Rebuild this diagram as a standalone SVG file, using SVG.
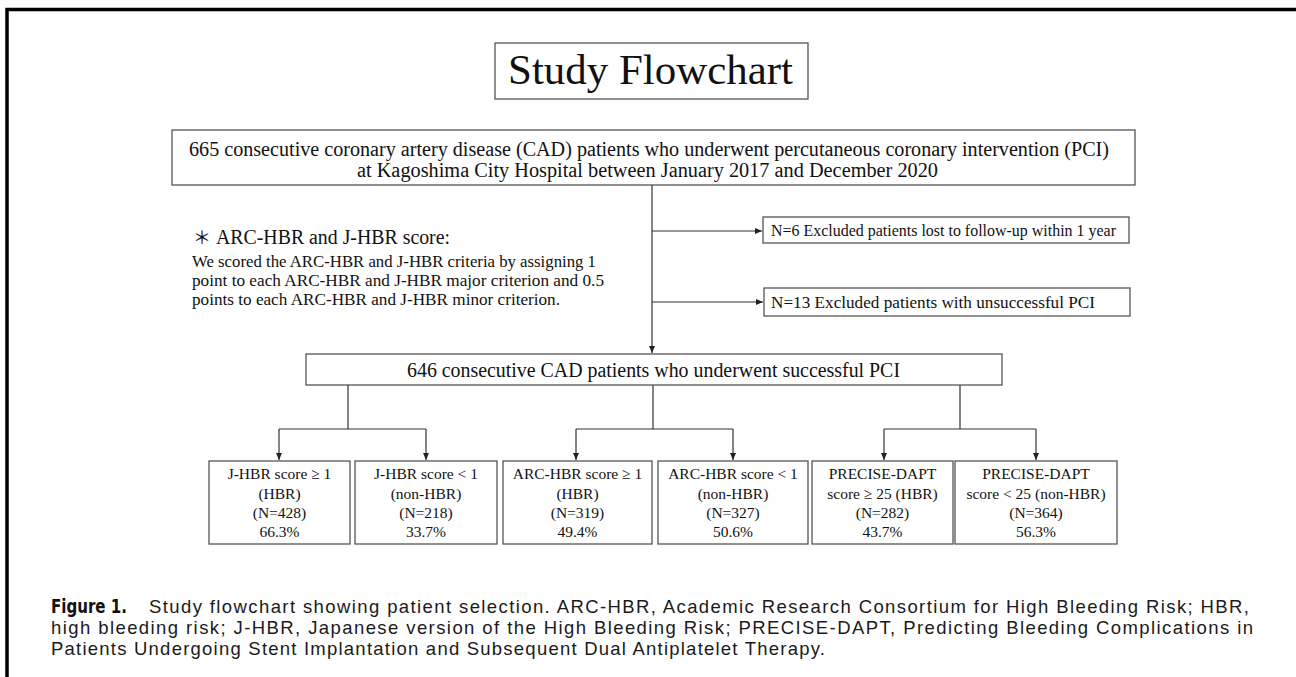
<svg xmlns="http://www.w3.org/2000/svg" width="1296" height="677" viewBox="0 0 1296 677">
<defs>
<marker id="arr" markerWidth="8" markerHeight="8" refX="7" refY="4" orient="auto" markerUnits="userSpaceOnUse">
<path d="M0,1 L7,4 L0,7 Z" fill="#222"/>
</marker>
<style>
.box{fill:#fff;stroke:#555;stroke-width:1.3}
.t{font-family:"Liberation Serif","Times New Roman",serif;fill:#111}
.c{text-anchor:middle}
.conn{stroke:#333;stroke-width:1.2;fill:none}
.cap{font-family:"Liberation Sans",Arial,sans-serif;font-size:18.5px;fill:#1a1a1a}
.fig{font-family:"Liberation Sans Narrow","DejaVu Sans Condensed","Liberation Sans",sans-serif;font-weight:bold;font-size:19px;fill:#111}
</style>
</defs>
<rect width="1296" height="677" fill="#fff"/>
<path d="M7,677 V9.5 H1296" fill="none" stroke="#000" stroke-width="3.5"/>

<g id="title">
<rect class="box" x="495" y="43" width="313" height="56"/>
<text class="t" x="508" y="84" font-size="43" textLength="285" lengthAdjust="spacingAndGlyphs">Study Flowchart</text>
</g>

<g id="n-all">
<rect class="box" x="172" y="130" width="963" height="55"/>
<text class="t" x="189" y="156" font-size="20" textLength="920" lengthAdjust="spacingAndGlyphs">665 consecutive coronary artery disease (CAD) patients who underwent percutaneous coronary intervention (PCI)</text>
<text class="t" x="357" y="177" font-size="20" textLength="581" lengthAdjust="spacingAndGlyphs">at Kagoshima City Hospital between January 2017 and December 2020</text>
</g>

<g id="note">
<text class="t" y="244" font-size="20"><tspan x="193" font-family="'Noto Sans CJK JP',sans-serif" font-size="18">＊</tspan><tspan x="216" textLength="234" lengthAdjust="spacingAndGlyphs">ARC-HBR and J-HBR score:</tspan></text>
<text class="t" x="192" y="267" font-size="17" textLength="404" lengthAdjust="spacingAndGlyphs">We scored the ARC-HBR and J-HBR criteria by assigning 1</text>
<text class="t" x="192" y="286" font-size="17" textLength="412" lengthAdjust="spacingAndGlyphs">point to each ARC-HBR and J-HBR major criterion and 0.5</text>
<text class="t" x="192" y="305" font-size="17" textLength="368" lengthAdjust="spacingAndGlyphs">points to each ARC-HBR and J-HBR minor criterion.</text>
</g>

<g id="excl-1">
<rect class="box" x="763" y="217" width="366" height="26"/>
<text class="t" x="771" y="236" font-size="17" textLength="345" lengthAdjust="spacingAndGlyphs">N=6 Excluded patients lost to follow-up within 1 year</text>
</g>

<g id="excl-2">
<rect class="box" x="764" y="288" width="366" height="28"/>
<text class="t" x="771" y="308" font-size="17" textLength="324" lengthAdjust="spacingAndGlyphs">N=13 Excluded patients with unsuccessful PCI</text>
</g>

<g id="n-success">
<rect class="box" x="306" y="354" width="696" height="31"/>
<text class="t" x="407" y="377" font-size="20" textLength="493" lengthAdjust="spacingAndGlyphs">646 consecutive CAD patients who underwent successful PCI</text>
</g>

<g id="jhbr-hbr">
<rect class="box" x="209" y="461" width="141" height="83"/>
<text class="t c" x="279.5" y="479" font-size="15.5">J-HBR score ≥ 1</text>
<text class="t c" x="279.5" y="498.5" font-size="15.5">(HBR)</text>
<text class="t c" x="279.5" y="518" font-size="15.5">(N=428)</text>
<text class="t c" x="279.5" y="537" font-size="15.5">66.3%</text>
</g>

<g id="jhbr-non">
<rect class="box" x="355" y="461" width="142" height="83"/>
<text class="t c" x="426" y="479" font-size="15.5">J-HBR score &lt; 1</text>
<text class="t c" x="426" y="498.5" font-size="15.5">(non-HBR)</text>
<text class="t c" x="426" y="518" font-size="15.5">(N=218)</text>
<text class="t c" x="426" y="537" font-size="15.5">33.7%</text>
</g>

<g id="arc-hbr">
<rect class="box" x="503" y="461" width="149" height="83"/>
<text class="t c" x="577.5" y="479" font-size="15.5">ARC-HBR score ≥ 1</text>
<text class="t c" x="577.5" y="498.5" font-size="15.5">(HBR)</text>
<text class="t c" x="577.5" y="518" font-size="15.5">(N=319)</text>
<text class="t c" x="577.5" y="537" font-size="15.5">49.4%</text>
</g>

<g id="arc-non">
<rect class="box" x="658" y="461" width="150" height="83"/>
<text class="t c" x="733" y="479" font-size="15.5">ARC-HBR score &lt; 1</text>
<text class="t c" x="733" y="498.5" font-size="15.5">(non-HBR)</text>
<text class="t c" x="733" y="518" font-size="15.5">(N=327)</text>
<text class="t c" x="733" y="537" font-size="15.5">50.6%</text>
</g>

<g id="pd-hbr">
<rect class="box" x="812" y="461" width="141" height="83"/>
<text class="t c" x="882.5" y="479" font-size="15.5">PRECISE-DAPT</text>
<text class="t c" x="882.5" y="498.5" font-size="15.5">score ≥ 25  (HBR)</text>
<text class="t c" x="882.5" y="518" font-size="15.5">(N=282)</text>
<text class="t c" x="882.5" y="537" font-size="15.5">43.7%</text>
</g>

<g id="pd-non">
<rect class="box" x="955" y="461" width="162" height="83"/>
<text class="t c" x="1036" y="479" font-size="15.5">PRECISE-DAPT</text>
<text class="t c" x="1036" y="498.5" font-size="15.5">score &lt; 25 (non-HBR)</text>
<text class="t c" x="1036" y="518" font-size="15.5">(N=364)</text>
<text class="t c" x="1036" y="537" font-size="15.5">56.3%</text>
</g>

<g id="connectors">
<path class="conn" d="M652,185 V353" marker-end="url(#arr)"/>
<path class="conn" d="M652,231 H762" marker-end="url(#arr)"/>
<path class="conn" d="M652,302 H763" marker-end="url(#arr)"/>
<path class="conn" d="M348,385 V429 M279,429 H426"/>
<path class="conn" d="M279,429 V460" marker-end="url(#arr)"/>
<path class="conn" d="M426,429 V460" marker-end="url(#arr)"/>
<path class="conn" d="M653,385 V429 M576,429 H733"/>
<path class="conn" d="M576,429 V460" marker-end="url(#arr)"/>
<path class="conn" d="M733,429 V460" marker-end="url(#arr)"/>
<path class="conn" d="M960,385 V429 M884,429 H1036"/>
<path class="conn" d="M884,429 V460" marker-end="url(#arr)"/>
<path class="conn" d="M1036,429 V460" marker-end="url(#arr)"/>
</g>

<g id="caption">
<text y="613"><tspan class="fig" x="51" textLength="76" lengthAdjust="spacingAndGlyphs">Figure 1.</tspan><tspan class="cap" x="149" textLength="1100" lengthAdjust="spacing">Study flowchart showing patient selection. ARC-HBR, Academic Research Consortium for High Bleeding Risk; HBR,</tspan></text>
<text class="cap" x="51" y="634" textLength="1202" lengthAdjust="spacing">high bleeding risk; J-HBR, Japanese version of the High Bleeding Risk; PRECISE-DAPT, Predicting Bleeding Complications in</text>
<text class="cap" x="51" y="655" textLength="774" lengthAdjust="spacing">Patients Undergoing Stent Implantation and Subsequent Dual Antiplatelet Therapy.</text>
</g>
</svg>
